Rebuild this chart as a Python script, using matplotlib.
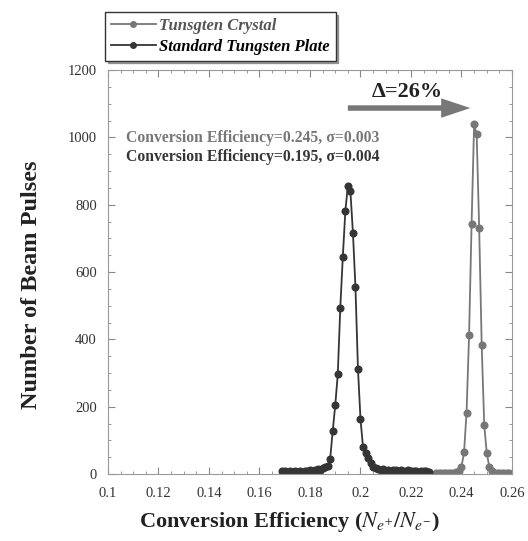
#!/usr/bin/env python3
"""
Conversion efficiency histograms: tungsten crystal vs standard tungsten plate
"""
import matplotlib.pyplot as plt
from matplotlib.ticker import MultipleLocator

# bin centres and counts, standard tungsten plate
plate_x = [0.169, 0.170, 0.171, 0.172, 0.173, 0.174, 0.175, 0.176, 0.177, 0.178,
           0.179, 0.180, 0.181, 0.182, 0.183, 0.184, 0.185, 0.186, 0.187, 0.188,
           0.189, 0.190, 0.191, 0.192, 0.193, 0.194, 0.195, 0.196, 0.197, 0.198,
           0.199, 0.200, 0.201, 0.202, 0.203, 0.204, 0.205, 0.206, 0.207, 0.208,
           0.209, 0.210, 0.211, 0.212, 0.213, 0.214, 0.215, 0.216, 0.217, 0.218,
           0.219, 0.220, 0.221, 0.222, 0.223, 0.224, 0.225, 0.226, 0.227]
plate_y = [8, 10, 6, 9, 5, 8, 7, 10, 6, 9,
           8, 12, 9, 11, 14, 12, 18, 20, 24, 46,
           128, 204, 296, 494, 645, 781, 856, 840, 717, 556,
           312, 163, 80, 62, 47, 33, 22, 18, 15, 12,
           14, 10, 12, 9, 13, 11, 8, 12, 10, 9,
           11, 8, 10, 9, 7, 10, 8, 9, 7]

# bin centres and counts, tungsten crystal
crystal_x = [0.230, 0.231, 0.232, 0.233, 0.234, 0.235, 0.236, 0.237, 0.238, 0.239,
             0.240, 0.241, 0.242, 0.243, 0.244, 0.245, 0.246, 0.247, 0.248, 0.249,
             0.250, 0.251, 0.252, 0.253, 0.254, 0.255, 0.256, 0.257, 0.258, 0.259]
crystal_y = [3, 2, 3, 2, 3, 3, 2, 4, 5, 8,
             22, 64, 182, 413, 744, 1039, 1010, 730, 383, 146,
             62, 22, 8, 4, 3, 2, 3, 2, 3, 2]

xticks = [0.1, 0.12, 0.14, 0.16, 0.18, 0.2, 0.22, 0.24, 0.26]
xtick_labels = ["0.1", "0.12", "0.14", "0.16", "0.18", "0.2", "0.22", "0.24", "0.26"]
yticks = [0, 200, 400, 600, 800, 1000, 1200]

DARK = "#353535"
LIGHT = "#777777"

plt.rcParams["font.family"] = ["Liberation Serif", "DejaVu Serif"]
plt.rcParams["mathtext.fontset"] = "stix"

fig = plt.figure(figsize=(5.28, 5.41), dpi=100)
ax = fig.add_axes([0.2045, 0.1238, 0.7652, 0.7468])

l1, = ax.plot(crystal_x, crystal_y, "-o", color=LIGHT, lw=1.3, ms=4.8)
l2, = ax.plot(plate_x, plate_y, "-o", color=DARK, lw=1.3, ms=4.8)

ax.set_xlim(0.1, 0.26)
ax.set_ylim(0, 1200)
ax.set_xticks(xticks)
ax.set_xticklabels(xtick_labels)
ax.set_yticks(yticks)
ax.xaxis.set_minor_locator(MultipleLocator(0.005))
ax.yaxis.set_minor_locator(MultipleLocator(50))
ax.tick_params(which="both", direction="in", top=True, right=True,
               color="#888888", labelsize=10.5, labelcolor="#333333")
ax.tick_params(axis="x", pad=9)
ax.tick_params(axis="y", pad=8)
ax.tick_params(which="major", length=5)
ax.tick_params(which="minor", length=2.5)
for s in ax.spines.values():
    s.set_color("#999999")
    s.set_linewidth(0.8)

ax.set_xlabel(r"Conversion Efficiency ($N_{e^{+}}/N_{e^{-}}$)",
              fontsize=16, fontweight="bold", color="#222222")
ax.set_ylabel("Number of Beam Pulses", fontsize=17.5, fontweight="bold",
              color="#222222")
ax.xaxis.set_label_coords(0.45, -0.088)
ax.yaxis.set_label_coords(-0.163, 0.468)

# annotations
ax.text(0.1071, 998, "Conversion Efficiency=0.245, \u03c3=0.003", fontsize=11.3,
        fontweight="bold", color=LIGHT, va="center")
ax.text(0.1071, 941, "Conversion Efficiency=0.195, \u03c3=0.004", fontsize=11.3,
        fontweight="bold", color=DARK, va="center")
ax.text(0.2184, 1134, "\u0394=26%", fontsize=16, fontweight="bold",
        color="#222222", ha="center", va="center")
ax.annotate("", xy=(0.2446, 1087), xytext=(0.1939, 1087),
            arrowprops=dict(arrowstyle="simple,head_length=1.5,head_width=1.0,tail_width=0.28",
                            mutation_scale=14, color=LIGHT, lw=0))

leg = fig.legend([l1, l2], ["Tunsgten Crystal", "Standard Tungsten Plate"],
                 loc="upper left", bbox_to_anchor=(105 / 528, 1 - 12 / 541),
                 frameon=True, fancybox=False, shadow=True, handlelength=2.7,
                 borderpad=0.35, labelspacing=0.3, handletextpad=0.2,
                 borderaxespad=0,
                 prop={"size": 12, "style": "italic", "weight": "bold"})
leg.get_frame().set_edgecolor("#333333")
leg.get_frame().set_linewidth(1.0)
for line in leg.get_lines():
    line.set_markersize(4)
leg.get_texts()[0].set_color("#555555")

fig.savefig("out.png", dpi=100)
